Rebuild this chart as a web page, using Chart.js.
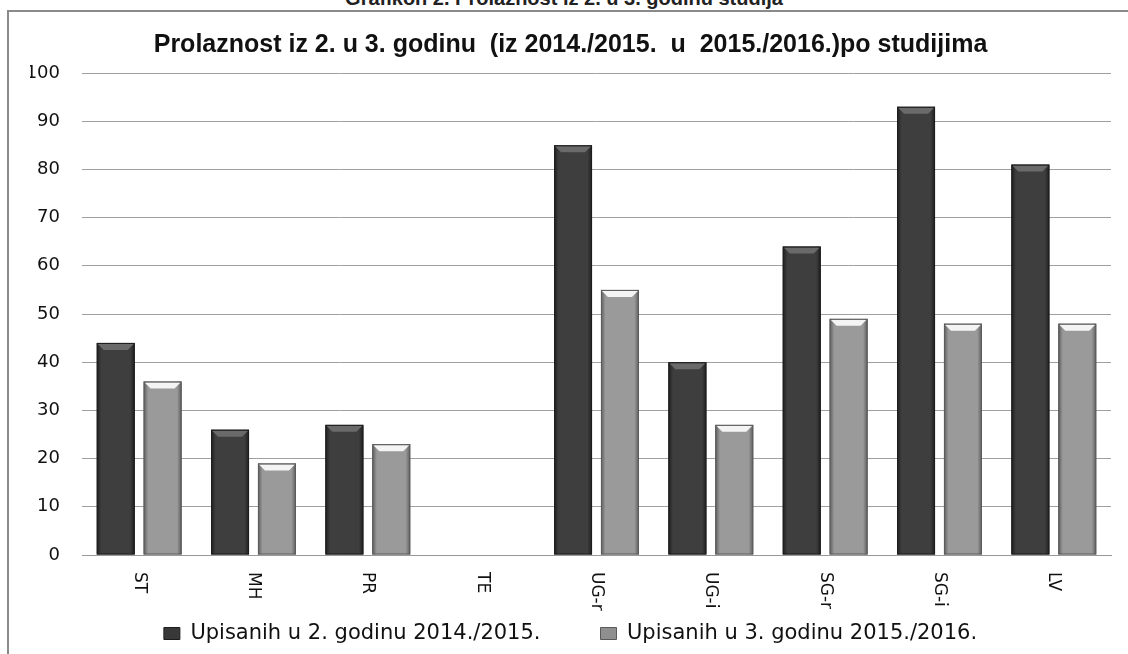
<!DOCTYPE html>
<html>
<head>
<meta charset="utf-8">
<script src="https://cdn.jsdelivr.net/npm/chart.js@4.4.0/dist/chart.umd.min.js"></script>
<style>
  html, body { margin: 0; padding: 0; background: #fff; }
  body { width: 1128px; height: 654px; overflow: hidden; position: relative; }
  #caption {
    position: absolute; top: -13px; left: 0; width: 1128px; text-align: center;
    font: bold 20px "Liberation Sans", sans-serif; color: #222;
  }
  #frame {
    position: absolute; left: 7px; top: 10px; width: 1121px; height: 644px;
    border-left: 2px solid #8a8a8a; border-top: 2px solid #8a8a8a; box-sizing: border-box;
  }
  #wrap { position: absolute; left: 0; top: 0; width: 1128px; height: 654px; }
</style>
</head>
<body>
<div id="caption">Grafikon 2. Prolaznost iz 2. u 3. godinu studija</div>
<div id="frame"></div>
<div id="wrap"><canvas id="chart"></canvas></div>
<script>
const categories = ["ST", "MH", "PR", "TE", "UG-r", "UG-i", "SG-r", "SG-i", "LV"];
const upisani2 = [44, 26, 27, null, 85, 40, 64, 93, 81];
const upisani3 = [36, 19, 23, null, 55, 27, 49, 48, 48];
const seriesNames = ["Upisanih u 2. godinu 2014./2015.", "Upisanih u 3. godinu 2015./2016."];
const yTicks = [0, 10, 20, 30, 40, 50, 60, 70, 80, 90, 100];

const labelFont = '17px "DejaVu Sans", sans-serif';
const shades = [
  { edge: "#1e1e1e", mid: "#3e3e3e", top: "#6a6a6a" },
  { edge: "#5c5c5c", mid: "#9a9a9a", top: "#f4f4f4" },
];

// x labels read top-to-bottom, so draw them ourselves at the scale's tick pixels
const clockwiseLabels = {
  id: "clockwiseLabels",
  afterDraw(chart) {
    const x = chart.scales.x;
    const ctx = chart.ctx;
    ctx.save();
    ctx.font = labelFont;
    ctx.fillStyle = "#111";
    ctx.textAlign = "left";
    ctx.textBaseline = "middle";
    categories.forEach((c, i) => {
      ctx.save();
      ctx.translate(x.getPixelForTick(i), x.bottom + 9);
      ctx.rotate(Math.PI / 2);
      ctx.fillText(c, 0, 0);
      ctx.restore();
    });
    ctx.restore();
  },
};

// bevelled look of the bars
const bevel = {
  id: "bevel",
  afterDatasetsDraw(chart) {
    const ctx = chart.ctx;
    chart.data.datasets.forEach((ds, di) => {
      const s = shades[di];
      chart.getDatasetMeta(di).data.forEach((bar, i) => {
        if (ds.data[i] == null) return;
        const { x, y, base, width } = bar.getProps(["x", "y", "base", "width"]);
        const l = x - width / 2, r = x + width / 2;
        const g = ctx.createLinearGradient(l, 0, r, 0);
        g.addColorStop(0, s.edge);
        g.addColorStop(0.12, s.mid);
        g.addColorStop(0.88, s.mid);
        g.addColorStop(1, s.edge);
        ctx.save();
        ctx.fillStyle = g;
        ctx.fillRect(l, y, width, base - y);
        const d = 7;
        ctx.fillStyle = s.top;
        ctx.beginPath();
        ctx.moveTo(l + 1, y + 1);
        ctx.lineTo(r - 1, y + 1);
        ctx.lineTo(r - d, y + d);
        ctx.lineTo(l + d, y + d);
        ctx.closePath();
        ctx.fill();
        ctx.strokeStyle = s.edge;
        ctx.lineWidth = 1;
        ctx.strokeRect(l + 0.5, y + 0.5, width - 1, base - y - 1);
        ctx.restore();
      });
    });
  },
};

new Chart(document.getElementById("chart"), {
  type: "bar",
  data: {
    labels: categories,
    datasets: [
      {
        label: seriesNames[0],
        data: upisani2,
        backgroundColor: "#383838",
        borderColor: "#1c1c1c",
        borderWidth: 1,
        categoryPercentage: 0.82,
        barPercentage: 0.81,
      },
      {
        label: seriesNames[1],
        data: upisani3,
        backgroundColor: "#8f8f8f",
        borderColor: "#5a5a5a",
        borderWidth: 1,
        categoryPercentage: 0.82,
        barPercentage: 0.81,
      },
    ],
  },
  options: {
    responsive: true,
    maintainAspectRatio: false,
    animation: false,
    layout: { padding: { left: 30, right: 17, top: 14, bottom: 0 } },
    plugins: {
      title: {
        display: true,
        text: "Prolaznost iz 2. u 3. godinu  (iz 2014./2015.  u  2015./2016.)po studijima",
        font: { family: '"Liberation Sans", sans-serif', size: 25, weight: "bold" },
        color: "#111",
        padding: { top: 16, bottom: 13 },
      },
      legend: {
        position: "bottom",
        labels: {
          font: { family: '"DejaVu Sans", sans-serif', size: 21 },
          color: "#111",
          boxWidth: 16,
          boxHeight: 12,
          padding: 60,
        },
      },
      tooltip: { enabled: false },
    },
    scales: {
      x: {
        grid: { display: false },
        border: { color: "#999" },
        ticks: { display: false },
      },
      y: {
        min: 0,
        max: 100,
        afterBuildTicks: (axis) => {
          axis.ticks = yTicks.map((v) => ({ value: v }));
        },
        afterFit: (axis) => {
          axis.width = 52;
        },
        grid: { color: "#a0a0a0", drawTicks: false },
        border: { display: false },
        ticks: {
          color: "#111",
          font: { family: '"DejaVu Sans", sans-serif', size: 18 },
          padding: 22,
        },
      },
    },
  },
  plugins: [clockwiseLabels, bevel],
});
</script>
</body>
</html>
